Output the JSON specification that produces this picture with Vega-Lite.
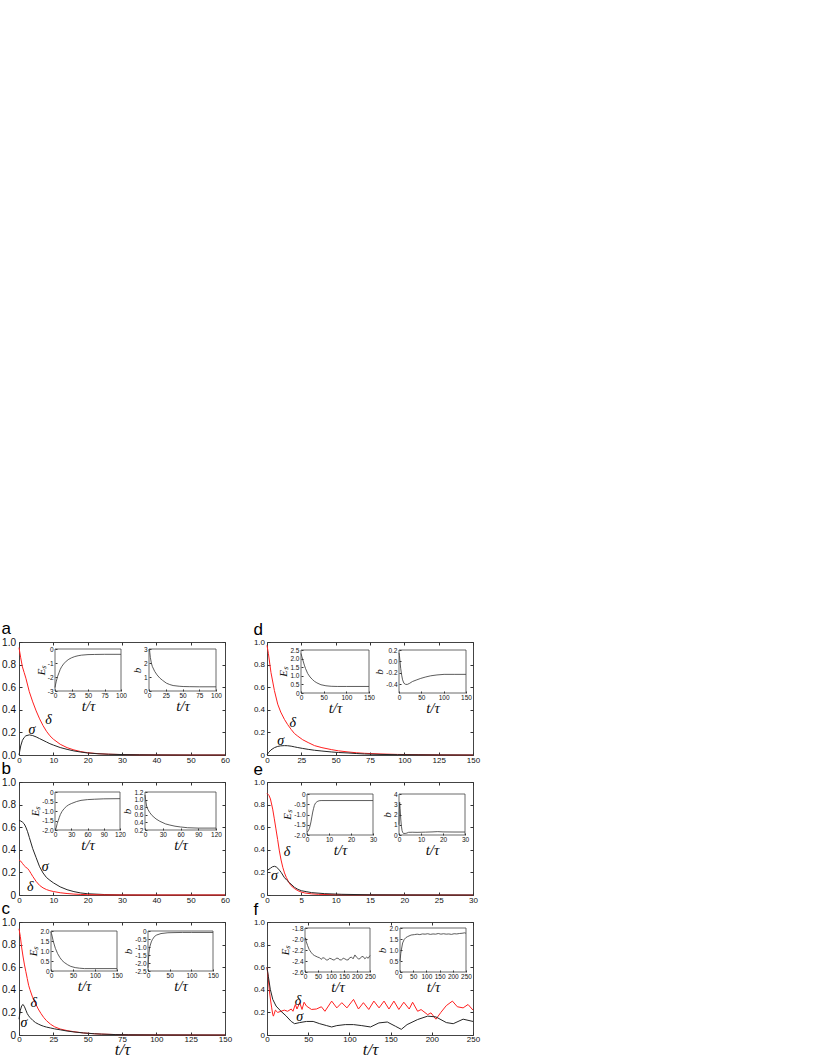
{
  "$schema": "https://vega.github.io/schema/vega-lite/v6.json",
  "background": "white",
  "padding": {"left": 1, "top": 619, "right": 5, "bottom": 1},
  "config": {
    "font": "Liberation Sans",
    "view": {"stroke": "#444", "strokeWidth": 1},
    "axis": {"grid": false, "domain": false, "labelOverlap": false, "labelFlush": false, "tickCount": 30, "tickColor": "#333", "labelColor": "#111", "labelFont": "Liberation Sans", "titleColor": "#111"},
    "title": {"font": "Liberation Sans", "fontWeight": "normal", "fontSize": 17, "anchor": "start", "frame": "bounds", "offset": -1, "color": "#000"},
    "text": {"font": "Liberation Serif", "fontStyle": "italic", "fontSize": 14, "color": "#000"}
  },
  "datasets": {
    "aM": [
      {"t":0,"v":0.95,"k":"d"},{"t":0.5,"v":0.86,"k":"d"},{"t":1,"v":0.78,"k":"d"},{"t":1.5,"v":0.73,"k":"d"},{"t":2,"v":0.68,"k":"d"},{"t":3,"v":0.56,"k":"d"},{"t":4,"v":0.47,"k":"d"},{"t":5,"v":0.39,"k":"d"},{"t":6,"v":0.32,"k":"d"},{"t":7,"v":0.26,"k":"d"},{"t":8,"v":0.21,"k":"d"},{"t":9,"v":0.17,"k":"d"},{"t":10,"v":0.14,"k":"d"},{"t":12,"v":0.095,"k":"d"},{"t":14,"v":0.065,"k":"d"},{"t":16,"v":0.045,"k":"d"},{"t":18,"v":0.03,"k":"d"},{"t":20,"v":0.02,"k":"d"},{"t":23,"v":0.012,"k":"d"},{"t":26,"v":0.007,"k":"d"},{"t":30,"v":0.004,"k":"d"},{"t":35,"v":0.002,"k":"d"},{"t":40,"v":0.001,"k":"d"},{"t":50,"v":0,"k":"d"},{"t":60,"v":0,"k":"d"},
      {"t":0,"v":0,"k":"s"},{"t":0.5,"v":0.08,"k":"s"},{"t":1,"v":0.13,"k":"s"},{"t":1.5,"v":0.155,"k":"s"},{"t":2,"v":0.17,"k":"s"},{"t":3,"v":0.178,"k":"s"},{"t":4,"v":0.172,"k":"s"},{"t":5,"v":0.16,"k":"s"},{"t":6,"v":0.145,"k":"s"},{"t":7,"v":0.13,"k":"s"},{"t":8,"v":0.115,"k":"s"},{"t":9,"v":0.1,"k":"s"},{"t":10,"v":0.088,"k":"s"},{"t":12,"v":0.066,"k":"s"},{"t":14,"v":0.05,"k":"s"},{"t":16,"v":0.036,"k":"s"},{"t":18,"v":0.026,"k":"s"},{"t":20,"v":0.018,"k":"s"},{"t":23,"v":0.011,"k":"s"},{"t":26,"v":0.007,"k":"s"},{"t":30,"v":0.004,"k":"s"},{"t":35,"v":0.002,"k":"s"},{"t":40,"v":0.001,"k":"s"},{"t":50,"v":0,"k":"s"},{"t":60,"v":0,"k":"s"}
    ],
    "aL": [{"t":8.6,"v":0.31,"k":"δ"},{"t":3.8,"v":0.22,"k":"σ"}],
    "aE": [{"t":0,"v":-2.75},{"t":1,"v":-2.5},{"t":2,"v":-2.3},{"t":4,"v":-1.95},{"t":6,"v":-1.7},{"t":8,"v":-1.45},{"t":10,"v":-1.27},{"t":13,"v":-1.07},{"t":17,"v":-0.87},{"t":21,"v":-0.73},{"t":25,"v":-0.63},{"t":30,"v":-0.54},{"t":35,"v":-0.48},{"t":40,"v":-0.44},{"t":50,"v":-0.4},{"t":60,"v":-0.39},{"t":75,"v":-0.38},{"t":100,"v":-0.38}],
    "aB": [{"t":0,"v":2.9},{"t":0.7,"v":3.0},{"t":1.2,"v":2.75},{"t":2,"v":2.4},{"t":3.5,"v":2.0},{"t":5,"v":1.75},{"t":8.5,"v":1.4},{"t":12,"v":1.15},{"t":16,"v":0.93},{"t":20,"v":0.77},{"t":26,"v":0.56},{"t":31,"v":0.46},{"t":36,"v":0.39},{"t":45,"v":0.34},{"t":51,"v":0.32},{"t":60,"v":0.31},{"t":75,"v":0.3},{"t":100,"v":0.3}],
    "bM": [
      {"t":0,"v":0.66,"k":"s"},{"t":0.5,"v":0.655,"k":"s"},{"t":1,"v":0.645,"k":"s"},{"t":1.5,"v":0.63,"k":"s"},{"t":2,"v":0.6,"k":"s"},{"t":2.5,"v":0.56,"k":"s"},{"t":3,"v":0.51,"k":"s"},{"t":3.5,"v":0.46,"k":"s"},{"t":4,"v":0.41,"k":"s"},{"t":5,"v":0.33,"k":"s"},{"t":6,"v":0.25,"k":"s"},{"t":7,"v":0.195,"k":"s"},{"t":8,"v":0.155,"k":"s"},{"t":9,"v":0.13,"k":"s"},{"t":10,"v":0.108,"k":"s"},{"t":12,"v":0.072,"k":"s"},{"t":14,"v":0.047,"k":"s"},{"t":16,"v":0.03,"k":"s"},{"t":18,"v":0.018,"k":"s"},{"t":20,"v":0.011,"k":"s"},{"t":25,"v":0.004,"k":"s"},{"t":30,"v":0.001,"k":"s"},{"t":40,"v":0,"k":"s"},{"t":60,"v":0,"k":"s"},
      {"t":0,"v":0.31,"k":"d"},{"t":0.5,"v":0.3,"k":"d"},{"t":1,"v":0.28,"k":"d"},{"t":1.5,"v":0.26,"k":"d"},{"t":2,"v":0.245,"k":"d"},{"t":2.5,"v":0.235,"k":"d"},{"t":3,"v":0.215,"k":"d"},{"t":3.5,"v":0.19,"k":"d"},{"t":4,"v":0.165,"k":"d"},{"t":5,"v":0.12,"k":"d"},{"t":6,"v":0.085,"k":"d"},{"t":7,"v":0.063,"k":"d"},{"t":8,"v":0.048,"k":"d"},{"t":9,"v":0.038,"k":"d"},{"t":10,"v":0.031,"k":"d"},{"t":12,"v":0.02,"k":"d"},{"t":14,"v":0.013,"k":"d"},{"t":16,"v":0.008,"k":"d"},{"t":18,"v":0.005,"k":"d"},{"t":20,"v":0.003,"k":"d"},{"t":25,"v":0.001,"k":"d"},{"t":30,"v":0,"k":"d"},{"t":40,"v":0,"k":"d"},{"t":60,"v":0,"k":"d"}
    ],
    "bL": [{"t":7.6,"v":0.25,"k":"σ"},{"t":3.3,"v":0.07,"k":"δ"}],
    "bE": [{"t":0,"v":-2.05},{"t":1,"v":-2.0},{"t":2,"v":-1.9},{"t":4,"v":-1.67},{"t":6,"v":-1.5},{"t":8,"v":-1.33},{"t":10,"v":-1.18},{"t":13,"v":-1.02},{"t":17,"v":-0.87},{"t":21,"v":-0.76},{"t":25,"v":-0.68},{"t":30,"v":-0.61},{"t":40,"v":-0.5},{"t":48,"v":-0.44},{"t":60,"v":-0.4},{"t":73,"v":-0.38},{"t":90,"v":-0.36},{"t":120,"v":-0.35}],
    "bB": [{"t":0,"v":1.12},{"t":1,"v":1.0},{"t":2.7,"v":0.83},{"t":5,"v":0.74},{"t":8,"v":0.66},{"t":12,"v":0.58},{"t":18.7,"v":0.49},{"t":25,"v":0.43},{"t":34.7,"v":0.36},{"t":42,"v":0.33},{"t":50.7,"v":0.3},{"t":60,"v":0.28},{"t":72,"v":0.26},{"t":90,"v":0.25},{"t":120,"v":0.25}],
    "cM": [
      {"t":0,"v":0.94,"k":"d"},{"t":1,"v":0.87,"k":"d"},{"t":2,"v":0.77,"k":"d"},{"t":3,"v":0.69,"k":"d"},{"t":4,"v":0.62,"k":"d"},{"t":5,"v":0.56,"k":"d"},{"t":6,"v":0.5,"k":"d"},{"t":7,"v":0.44,"k":"d"},{"t":8,"v":0.4,"k":"d"},{"t":10,"v":0.33,"k":"d"},{"t":12,"v":0.28,"k":"d"},{"t":14,"v":0.23,"k":"d"},{"t":16,"v":0.19,"k":"d"},{"t":18,"v":0.155,"k":"d"},{"t":20,"v":0.127,"k":"d"},{"t":23,"v":0.095,"k":"d"},{"t":26,"v":0.072,"k":"d"},{"t":30,"v":0.053,"k":"d"},{"t":35,"v":0.039,"k":"d"},{"t":40,"v":0.029,"k":"d"},{"t":47,"v":0.018,"k":"d"},{"t":55,"v":0.011,"k":"d"},{"t":60,"v":0.008,"k":"d"},{"t":70,"v":0.004,"k":"d"},{"t":80,"v":0.002,"k":"d"},{"t":100,"v":0.001,"k":"d"},{"t":150,"v":0,"k":"d"},
      {"t":0,"v":0.14,"k":"s"},{"t":1,"v":0.22,"k":"s"},{"t":2,"v":0.26,"k":"s"},{"t":3,"v":0.27,"k":"s"},{"t":4,"v":0.25,"k":"s"},{"t":5,"v":0.22,"k":"s"},{"t":6,"v":0.19,"k":"s"},{"t":7,"v":0.17,"k":"s"},{"t":8,"v":0.155,"k":"s"},{"t":10,"v":0.13,"k":"s"},{"t":12,"v":0.11,"k":"s"},{"t":14,"v":0.097,"k":"s"},{"t":16,"v":0.086,"k":"s"},{"t":18,"v":0.077,"k":"s"},{"t":20,"v":0.07,"k":"s"},{"t":23,"v":0.062,"k":"s"},{"t":26,"v":0.054,"k":"s"},{"t":30,"v":0.046,"k":"s"},{"t":35,"v":0.035,"k":"s"},{"t":40,"v":0.027,"k":"s"},{"t":47,"v":0.018,"k":"s"},{"t":55,"v":0.011,"k":"s"},{"t":60,"v":0.008,"k":"s"},{"t":70,"v":0.004,"k":"s"},{"t":80,"v":0.002,"k":"s"},{"t":100,"v":0.001,"k":"s"},{"t":150,"v":0,"k":"s"}
    ],
    "cL": [{"t":10.8,"v":0.285,"k":"δ"},{"t":3.6,"v":0.11,"k":"σ"}],
    "cE": [{"t":0,"v":1.95},{"t":1,"v":1.88},{"t":3,"v":1.7},{"t":5,"v":1.5},{"t":7.6,"v":1.3},{"t":10,"v":1.13},{"t":15,"v":0.87},{"t":20,"v":0.68},{"t":25,"v":0.53},{"t":30,"v":0.43},{"t":38,"v":0.31},{"t":45,"v":0.23},{"t":55,"v":0.17},{"t":65,"v":0.14},{"t":76,"v":0.12},{"t":100,"v":0.12},{"t":150,"v":0.12}],
    "cB": [{"t":0,"v":-2.3},{"t":0.5,"v":-2.1},{"t":1,"v":-1.8},{"t":2.3,"v":-1.36},{"t":4,"v":-1.0},{"t":7.6,"v":-0.68},{"t":10,"v":-0.54},{"t":15,"v":-0.34},{"t":20,"v":-0.25},{"t":30,"v":-0.16},{"t":46,"v":-0.11},{"t":60,"v":-0.1},{"t":80,"v":-0.09},{"t":100,"v":-0.09},{"t":150,"v":-0.09}],
    "dM": [
      {"t":0,"v":0.97,"k":"d"},{"t":1,"v":0.9,"k":"d"},{"t":2.9,"v":0.73,"k":"d"},{"t":5.4,"v":0.57,"k":"d"},{"t":7.8,"v":0.45,"k":"d"},{"t":10,"v":0.38,"k":"d"},{"t":12.7,"v":0.315,"k":"d"},{"t":15,"v":0.27,"k":"d"},{"t":17.6,"v":0.226,"k":"d"},{"t":20,"v":0.19,"k":"d"},{"t":22.4,"v":0.167,"k":"d"},{"t":26,"v":0.135,"k":"d"},{"t":30,"v":0.11,"k":"d"},{"t":34.6,"v":0.083,"k":"d"},{"t":40,"v":0.065,"k":"d"},{"t":46.8,"v":0.048,"k":"d"},{"t":52,"v":0.037,"k":"d"},{"t":59,"v":0.027,"k":"d"},{"t":65,"v":0.02,"k":"d"},{"t":71,"v":0.015,"k":"d"},{"t":83,"v":0.009,"k":"d"},{"t":95,"v":0.005,"k":"d"},{"t":110,"v":0.003,"k":"d"},{"t":125,"v":0.001,"k":"d"},{"t":150,"v":0,"k":"d"},
      {"t":0,"v":0,"k":"s"},{"t":1,"v":0.02,"k":"s"},{"t":2.9,"v":0.045,"k":"s"},{"t":5.4,"v":0.065,"k":"s"},{"t":7.8,"v":0.076,"k":"s"},{"t":10,"v":0.081,"k":"s"},{"t":12.7,"v":0.083,"k":"s"},{"t":15,"v":0.082,"k":"s"},{"t":17.6,"v":0.078,"k":"s"},{"t":20,"v":0.072,"k":"s"},{"t":22.4,"v":0.066,"k":"s"},{"t":26,"v":0.058,"k":"s"},{"t":30,"v":0.05,"k":"s"},{"t":34.6,"v":0.042,"k":"s"},{"t":40,"v":0.035,"k":"s"},{"t":46.8,"v":0.027,"k":"s"},{"t":52,"v":0.022,"k":"s"},{"t":59,"v":0.018,"k":"s"},{"t":65,"v":0.013,"k":"s"},{"t":71,"v":0.009,"k":"s"},{"t":83,"v":0.005,"k":"s"},{"t":95,"v":0.003,"k":"s"},{"t":110,"v":0.002,"k":"s"},{"t":125,"v":0.001,"k":"s"},{"t":150,"v":0,"k":"s"}
    ],
    "dL": [{"t":18.8,"v":0.285,"k":"δ"},{"t":10,"v":0.12,"k":"σ"}],
    "dE": [{"t":0,"v":2.3},{"t":2,"v":2.1},{"t":4,"v":1.92},{"t":7.4,"v":1.62},{"t":10,"v":1.42},{"t":14.8,"v":1.13},{"t":20,"v":0.93},{"t":25,"v":0.79},{"t":29.6,"v":0.68},{"t":35,"v":0.59},{"t":44,"v":0.48},{"t":55,"v":0.42},{"t":66.5,"v":0.39},{"t":80,"v":0.38},{"t":100,"v":0.38},{"t":150,"v":0.38}],
    "dB": [{"t":0,"v":0.15},{"t":1,"v":0.1},{"t":2,"v":0.02},{"t":3.75,"v":-0.12},{"t":6,"v":-0.24},{"t":8,"v":-0.32},{"t":11,"v":-0.38},{"t":15,"v":-0.4},{"t":18.75,"v":-0.4},{"t":24,"v":-0.38},{"t":30,"v":-0.35},{"t":40,"v":-0.32},{"t":48.75,"v":-0.295},{"t":60,"v":-0.27},{"t":71,"v":-0.25},{"t":85,"v":-0.235},{"t":101,"v":-0.225},{"t":125,"v":-0.225},{"t":150,"v":-0.225}],
    "eM": [
      {"t":0,"v":0.9,"k":"d"},{"t":0.3,"v":0.88,"k":"d"},{"t":0.5,"v":0.85,"k":"d"},{"t":0.83,"v":0.76,"k":"d"},{"t":1.05,"v":0.68,"k":"d"},{"t":1.3,"v":0.585,"k":"d"},{"t":1.55,"v":0.49,"k":"d"},{"t":1.8,"v":0.39,"k":"d"},{"t":2.05,"v":0.31,"k":"d"},{"t":2.3,"v":0.245,"k":"d"},{"t":2.55,"v":0.195,"k":"d"},{"t":2.8,"v":0.157,"k":"d"},{"t":3.15,"v":0.115,"k":"d"},{"t":3.5,"v":0.083,"k":"d"},{"t":4,"v":0.057,"k":"d"},{"t":4.5,"v":0.038,"k":"d"},{"t":5,"v":0.026,"k":"d"},{"t":5.5,"v":0.018,"k":"d"},{"t":6.5,"v":0.01,"k":"d"},{"t":7.5,"v":0.006,"k":"d"},{"t":10,"v":0.002,"k":"d"},{"t":15,"v":0.001,"k":"d"},{"t":30,"v":0,"k":"d"},
      {"t":0,"v":0.216,"k":"s"},{"t":0.5,"v":0.237,"k":"s"},{"t":0.8,"v":0.25,"k":"s"},{"t":1.1,"v":0.254,"k":"s"},{"t":1.35,"v":0.248,"k":"s"},{"t":1.57,"v":0.237,"k":"s"},{"t":1.8,"v":0.22,"k":"s"},{"t":2.06,"v":0.2,"k":"s"},{"t":2.5,"v":0.157,"k":"s"},{"t":2.9,"v":0.13,"k":"s"},{"t":3.3,"v":0.107,"k":"s"},{"t":4,"v":0.068,"k":"s"},{"t":4.5,"v":0.05,"k":"s"},{"t":5,"v":0.038,"k":"s"},{"t":5.7,"v":0.03,"k":"s"},{"t":6.5,"v":0.021,"k":"s"},{"t":8.4,"v":0.012,"k":"s"},{"t":10.9,"v":0.006,"k":"s"},{"t":15,"v":0.002,"k":"s"},{"t":20,"v":0.001,"k":"s"},{"t":30,"v":0,"k":"s"}
    ],
    "eL": [{"t":2.9,"v":0.38,"k":"δ"},{"t":1.1,"v":0.17,"k":"σ"}],
    "eE": [{"t":0,"v":-1.86},{"t":0.3,"v":-1.84},{"t":0.7,"v":-1.77},{"t":1.07,"v":-1.68},{"t":1.4,"v":-1.55},{"t":1.8,"v":-1.36},{"t":2.2,"v":-1.12},{"t":2.6,"v":-0.88},{"t":3,"v":-0.7},{"t":3.35,"v":-0.56},{"t":3.8,"v":-0.45},{"t":4.6,"v":-0.37},{"t":5.5,"v":-0.33},{"t":6.4,"v":-0.32},{"t":10,"v":-0.32},{"t":20,"v":-0.32},{"t":30,"v":-0.32}],
    "eB": [{"t":0,"v":1.0},{"t":0.15,"v":2.5},{"t":0.3,"v":3.2},{"t":0.5,"v":2.6},{"t":0.8,"v":1.56},{"t":1.1,"v":0.85},{"t":1.4,"v":0.42},{"t":1.7,"v":0.25},{"t":2,"v":0.16},{"t":2.8,"v":0.15},{"t":3.6,"v":0.19},{"t":4.35,"v":0.26},{"t":6,"v":0.27},{"t":8.2,"v":0.26},{"t":12,"v":0.28},{"t":15,"v":0.3},{"t":17.6,"v":0.33},{"t":20,"v":0.3},{"t":25,"v":0.29},{"t":30,"v":0.29}],
    "fM": [
      {"t":0,"v":0.6,"k":"d"},{"t":1.5,"v":0.5,"k":"d"},{"t":2.9,"v":0.39,"k":"d"},{"t":4.3,"v":0.31,"k":"d"},{"t":5.7,"v":0.24,"k":"d"},{"t":7,"v":0.18,"k":"d"},{"t":7.8,"v":0.167,"k":"d"},{"t":10.2,"v":0.22,"k":"d"},{"t":13,"v":0.2,"k":"d"},{"t":17,"v":0.21,"k":"d"},{"t":21,"v":0.22,"k":"d"},{"t":25,"v":0.21,"k":"d"},{"t":29.4,"v":0.23,"k":"d"},{"t":31.5,"v":0.21,"k":"d"},{"t":34.4,"v":0.27,"k":"d"},{"t":36.4,"v":0.23,"k":"d"},{"t":39.7,"v":0.286,"k":"d"},{"t":42.5,"v":0.226,"k":"d"},{"t":45,"v":0.29,"k":"d"},{"t":47.9,"v":0.256,"k":"d"},{"t":54,"v":0.226,"k":"d"},{"t":60,"v":0.23,"k":"d"},{"t":66,"v":0.25,"k":"d"},{"t":70.3,"v":0.21,"k":"d"},{"t":78.5,"v":0.3,"k":"d"},{"t":84.7,"v":0.24,"k":"d"},{"t":90.8,"v":0.286,"k":"d"},{"t":97,"v":0.24,"k":"d"},{"t":105,"v":0.315,"k":"d"},{"t":111,"v":0.23,"k":"d"},{"t":117,"v":0.286,"k":"d"},{"t":123.5,"v":0.226,"k":"d"},{"t":129.7,"v":0.3,"k":"d"},{"t":136,"v":0.24,"k":"d"},{"t":142,"v":0.3,"k":"d"},{"t":148,"v":0.23,"k":"d"},{"t":154,"v":0.3,"k":"d"},{"t":160,"v":0.226,"k":"d"},{"t":166,"v":0.29,"k":"d"},{"t":172.6,"v":0.23,"k":"d"},{"t":176.7,"v":0.29,"k":"d"},{"t":182.8,"v":0.21,"k":"d"},{"t":187,"v":0.225,"k":"d"},{"t":195,"v":0.18,"k":"d"},{"t":199,"v":0.196,"k":"d"},{"t":205,"v":0.14,"k":"d"},{"t":211,"v":0.2,"k":"d"},{"t":217.6,"v":0.26,"k":"d"},{"t":225,"v":0.3,"k":"d"},{"t":231,"v":0.25,"k":"d"},{"t":238,"v":0.24,"k":"d"},{"t":244,"v":0.27,"k":"d"},{"t":250,"v":0.22,"k":"d"},
      {"t":0,"v":0.6,"k":"s"},{"t":1.6,"v":0.52,"k":"s"},{"t":4,"v":0.405,"k":"s"},{"t":7,"v":0.315,"k":"s"},{"t":11,"v":0.256,"k":"s"},{"t":17,"v":0.21,"k":"s"},{"t":23,"v":0.17,"k":"s"},{"t":29.4,"v":0.12,"k":"s"},{"t":33.5,"v":0.1,"k":"s"},{"t":39.7,"v":0.11,"k":"s"},{"t":47.9,"v":0.12,"k":"s"},{"t":56,"v":0.12,"k":"s"},{"t":64,"v":0.1,"k":"s"},{"t":72.4,"v":0.083,"k":"s"},{"t":78.5,"v":0.071,"k":"s"},{"t":84.7,"v":0.083,"k":"s"},{"t":95,"v":0.092,"k":"s"},{"t":105,"v":0.092,"k":"s"},{"t":115,"v":0.083,"k":"s"},{"t":125.6,"v":0.071,"k":"s"},{"t":135.8,"v":0.107,"k":"s"},{"t":146,"v":0.115,"k":"s"},{"t":156,"v":0.077,"k":"s"},{"t":163,"v":0.05,"k":"s"},{"t":170,"v":0.092,"k":"s"},{"t":182.8,"v":0.137,"k":"s"},{"t":195,"v":0.167,"k":"s"},{"t":205,"v":0.16,"k":"s"},{"t":217.6,"v":0.11,"k":"s"},{"t":226,"v":0.1,"k":"s"},{"t":238,"v":0.14,"k":"s"},{"t":250,"v":0.12,"k":"s"}
    ],
    "fL": [{"t":37.6,"v":0.3,"k":"δ"},{"t":39.7,"v":0.158,"k":"σ"}],
    "fE": [{"t":0,"v":-2.02},{"t":2,"v":-1.98},{"t":5,"v":-2.05},{"t":10,"v":-2.12},{"t":16,"v":-2.19},{"t":23,"v":-2.24},{"t":30,"v":-2.28},{"t":36,"v":-2.3},{"t":49,"v":-2.33},{"t":56,"v":-2.34},{"t":62,"v":-2.37},{"t":69,"v":-2.34},{"t":75,"v":-2.35},{"t":82,"v":-2.38},{"t":88,"v":-2.38},{"t":95,"v":-2.35},{"t":101,"v":-2.36},{"t":108,"v":-2.38},{"t":114,"v":-2.38},{"t":120,"v":-2.35},{"t":127,"v":-2.35},{"t":134,"v":-2.38},{"t":140,"v":-2.38},{"t":147,"v":-2.35},{"t":153,"v":-2.36},{"t":160,"v":-2.38},{"t":166,"v":-2.38},{"t":172,"v":-2.34},{"t":179,"v":-2.33},{"t":185,"v":-2.36},{"t":192,"v":-2.29},{"t":198,"v":-2.33},{"t":205,"v":-2.36},{"t":211,"v":-2.36},{"t":218,"v":-2.32},{"t":224,"v":-2.32},{"t":230,"v":-2.36},{"t":237,"v":-2.33},{"t":243,"v":-2.35},{"t":250,"v":-2.3}],
    "fB": [{"t":0,"v":0.5},{"t":1,"v":0.6},{"t":3,"v":0.85},{"t":5,"v":1.0},{"t":10,"v":1.32},{"t":16,"v":1.48},{"t":22,"v":1.56},{"t":29,"v":1.61},{"t":42,"v":1.68},{"t":55,"v":1.7},{"t":65,"v":1.72},{"t":75,"v":1.7},{"t":85,"v":1.73},{"t":95,"v":1.72},{"t":105,"v":1.74},{"t":115,"v":1.71},{"t":125,"v":1.73},{"t":135,"v":1.72},{"t":145,"v":1.75},{"t":155,"v":1.72},{"t":165,"v":1.74},{"t":175,"v":1.72},{"t":185,"v":1.73},{"t":195,"v":1.71},{"t":205,"v":1.74},{"t":215,"v":1.73},{"t":225,"v":1.75},{"t":235,"v":1.76},{"t":245,"v":1.78},{"t":250,"v":1.76}]
  },
  "columns": 2,
  "bounds": "flush",
  "spacing": {"row": 27, "column": 42},
  "concat": [
    {
      "title": {"text": "a"},
      "width": 206, "height": 113,
      "layer": [
        {"layer": [
          {"data": {"name": "aM"}, "mark": {"type": "line", "strokeWidth": 1},
           "encoding": {
             "x": {"field": "t", "type": "quantitative", "scale": {"domain": [0, 60], "nice": false, "zero": false}, "axis": {"values": [0,10,20,30,40,50,60], "tickCount": 30, "labelOverlap": false, "title": null, "labelFontSize": 8, "tickSize": -3, "labelPadding": 4.5}},
             "y": {"field": "v", "type": "quantitative", "scale": {"domain": [0, 1], "nice": false}, "axis": {"values": [0,0.2,0.4,0.6,0.8,1], "tickCount": 30, "labelOverlap": false, "title": null, "labelFontSize": 10, "tickSize": -3, "labelPadding": 6.5, "labelExpr": "format(datum.value,'.1f')"}},
             "color": {"field": "k", "type": "nominal", "scale": {"domain": ["s", "d"], "range": ["#262626", "#ff1f1f"]}, "legend": null}}},
          {"data": {"name": "aL"}, "mark": {"type": "text"},
           "encoding": {"x": {"field": "t", "type": "quantitative"}, "y": {"field": "v", "type": "quantitative"}, "text": {"field": "k"}}}
        ]},
        {"data": {"name": "aM"}, "mark": {"type": "line", "opacity": 0},
         "encoding": {
           "x": {"field": "t", "type": "quantitative", "scale": {"domain": [0, 60], "nice": false, "zero": false}, "axis": {"orient": "top", "values": [0,10,20,30,40,50,60], "tickCount": 30, "labels": false, "title": null, "tickSize": -3}},
           "y": {"field": "v", "type": "quantitative", "scale": {"domain": [0, 1], "nice": false}, "axis": {"orient": "right", "values": [0,0.2,0.4,0.6,0.8,1], "tickCount": 30, "labels": false, "title": null, "tickSize": -3}}}},
        {"layer": [
          {"data": {"name": "aE"}, "mark": {"type": "line", "color": "#333", "strokeWidth": 0.8},
           "encoding": {
             "x": {"field": "t", "type": "quantitative", "scale": {"domain": [0, 100], "range": [36, 102], "nice": false, "zero": false}, "axis": {"orient": "bottom", "offset": -64, "values": [0,25,50,75,100], "tickCount": 30, "labelOverlap": false, "format": "d", "labelFontSize": 6.5, "tickSize": -2, "labelPadding": 3, "title": "t/τ", "titleFont": "Liberation Serif", "titleFontStyle": "italic", "titleFontWeight": "normal", "titleFontSize": 15, "titlePadding": 0}},
             "y": {"field": "v", "type": "quantitative", "scale": {"domain": [-3, 0], "range": [49, 7], "nice": false, "zero": false}, "axis": {"orient": "left", "offset": -36, "values": [-3,-2,-1,0], "tickCount": 30, "labelOverlap": false, "labelExpr": "(datum.value<0?'-':'')+format(abs(datum.value),'d')", "labelFontSize": 6.5, "tickSize": -2, "labelPadding": 4, "title": "Eₛ", "titleFont": "Liberation Serif", "titleFontStyle": "italic", "titleFontWeight": "normal", "titleFontSize": 11, "titlePadding": 1}}}},
          {"data": {"values": [{"x0": 0, "x1": 100, "y0": -3, "y1": 0}]}, "mark": {"type": "rect", "filled": false, "color": "#444", "strokeWidth": 0.8},
           "encoding": {"x": {"field": "x0", "type": "quantitative"}, "x2": {"field": "x1"}, "y": {"field": "y0", "type": "quantitative"}, "y2": {"field": "y1"}}}
        ]},
        {"layer": [
          {"data": {"name": "aB"}, "mark": {"type": "line", "color": "#333", "strokeWidth": 0.8},
           "encoding": {
             "x": {"field": "t", "type": "quantitative", "scale": {"domain": [0, 100], "range": [130, 197], "nice": false, "zero": false}, "axis": {"orient": "bottom", "offset": -64, "values": [0,25,50,75,100], "tickCount": 30, "labelOverlap": false, "format": "d", "labelFontSize": 6.5, "tickSize": -2, "labelPadding": 3, "title": "t/τ", "titleFont": "Liberation Serif", "titleFontStyle": "italic", "titleFontWeight": "normal", "titleFontSize": 15, "titlePadding": 0}},
             "y": {"field": "v", "type": "quantitative", "scale": {"domain": [0, 3], "range": [49, 7], "nice": false, "zero": false}, "axis": {"orient": "left", "offset": -130, "values": [0,1,2,3], "tickCount": 30, "labelOverlap": false, "format": "d", "labelFontSize": 6.5, "tickSize": -2, "labelPadding": 4, "title": "b", "titleFont": "Liberation Serif", "titleFontStyle": "italic", "titleFontWeight": "normal", "titleFontSize": 11, "titlePadding": 1}}}},
          {"data": {"values": [{"x0": 0, "x1": 100, "y0": 0, "y1": 3}]}, "mark": {"type": "rect", "filled": false, "color": "#444", "strokeWidth": 0.8},
           "encoding": {"x": {"field": "x0", "type": "quantitative"}, "x2": {"field": "x1"}, "y": {"field": "y0", "type": "quantitative"}, "y2": {"field": "y1"}}}
        ]}
      ],
      "resolve": {"scale": {"x": "independent", "y": "independent"}, "axis": {"x": "independent", "y": "independent"}}
    },
    {
      "title": {"text": "d"},
      "width": 206, "height": 113,
      "layer": [
        {"layer": [
          {"data": {"name": "dM"}, "mark": {"type": "line", "strokeWidth": 1},
           "encoding": {
             "x": {"field": "t", "type": "quantitative", "scale": {"domain": [0, 150], "nice": false, "zero": false}, "axis": {"values": [0,25,50,75,100,125,150], "tickCount": 30, "labelOverlap": false, "title": null, "labelFontSize": 8, "tickSize": -3, "labelPadding": 4.5}},
             "y": {"field": "v", "type": "quantitative", "scale": {"domain": [0, 1], "nice": false}, "axis": {"values": [0,0.2,0.4,0.6,0.8,1], "tickCount": 30, "labelOverlap": false, "title": null, "labelFontSize": 8, "tickSize": -3, "labelPadding": 5.5, "labelExpr": "datum.value==0?'0':format(datum.value,'.1f')"}},
             "color": {"field": "k", "type": "nominal", "scale": {"domain": ["s", "d"], "range": ["#262626", "#ff1f1f"]}, "legend": null}}},
          {"data": {"name": "dL"}, "mark": {"type": "text"},
           "encoding": {"x": {"field": "t", "type": "quantitative"}, "y": {"field": "v", "type": "quantitative"}, "text": {"field": "k"}}}
        ]},
        {"data": {"name": "dM"}, "mark": {"type": "line", "opacity": 0},
         "encoding": {
           "x": {"field": "t", "type": "quantitative", "scale": {"domain": [0, 150], "nice": false, "zero": false}, "axis": {"orient": "top", "values": [0,25,50,75,100,125,150], "tickCount": 30, "labels": false, "title": null, "tickSize": -3}},
           "y": {"field": "v", "type": "quantitative", "scale": {"domain": [0, 1], "nice": false}, "axis": {"orient": "right", "values": [0,0.2,0.4,0.6,0.8,1], "tickCount": 30, "labels": false, "title": null, "tickSize": -3}}}},
        {"layer": [
          {"data": {"name": "dE"}, "mark": {"type": "line", "color": "#333", "strokeWidth": 0.8},
           "encoding": {
             "x": {"field": "t", "type": "quantitative", "scale": {"domain": [0, 150], "range": [34, 102], "nice": false, "zero": false}, "axis": {"orient": "bottom", "offset": -62, "values": [0,50,100,150], "tickCount": 30, "labelOverlap": false, "format": "d", "labelFontSize": 6.5, "tickSize": -2, "labelPadding": 3, "title": "t/τ", "titleFont": "Liberation Serif", "titleFontStyle": "italic", "titleFontWeight": "normal", "titleFontSize": 15, "titlePadding": 0}},
             "y": {"field": "v", "type": "quantitative", "scale": {"domain": [0, 2.5], "range": [51, 8], "nice": false, "zero": false}, "axis": {"orient": "left", "offset": -34, "values": [0,0.5,1,1.5,2,2.5], "tickCount": 30, "labelOverlap": false, "labelExpr": "datum.value==0?'0':format(datum.value,'.1f')", "labelFontSize": 6.5, "tickSize": -2, "labelPadding": 4, "title": "Eₛ", "titleFont": "Liberation Serif", "titleFontStyle": "italic", "titleFontWeight": "normal", "titleFontSize": 11, "titlePadding": 1}}}},
          {"data": {"values": [{"x0": 0, "x1": 150, "y0": 0, "y1": 2.5}]}, "mark": {"type": "rect", "filled": false, "color": "#444", "strokeWidth": 0.8},
           "encoding": {"x": {"field": "x0", "type": "quantitative"}, "x2": {"field": "x1"}, "y": {"field": "y0", "type": "quantitative"}, "y2": {"field": "y1"}}}
        ]},
        {"layer": [
          {"data": {"name": "dB"}, "mark": {"type": "line", "color": "#333", "strokeWidth": 0.8},
           "encoding": {
             "x": {"field": "t", "type": "quantitative", "scale": {"domain": [0, 150], "range": [132, 199], "nice": false, "zero": false}, "axis": {"orient": "bottom", "offset": -62, "values": [0,50,100,150], "tickCount": 30, "labelOverlap": false, "format": "d", "labelFontSize": 6.5, "tickSize": -2, "labelPadding": 3, "title": "t/τ", "titleFont": "Liberation Serif", "titleFontStyle": "italic", "titleFontWeight": "normal", "titleFontSize": 15, "titlePadding": 0}},
             "y": {"field": "v", "type": "quantitative", "scale": {"domain": [-0.55, 0.2], "range": [51, 8], "nice": false, "zero": false}, "axis": {"orient": "left", "offset": -132, "values": [-0.4,-0.2,0,0.2], "tickCount": 30, "labelOverlap": false, "labelExpr": "(datum.value<0?'-':'')+format(abs(datum.value),'.1f')", "labelFontSize": 6.5, "tickSize": -2, "labelPadding": 4, "title": "b", "titleFont": "Liberation Serif", "titleFontStyle": "italic", "titleFontWeight": "normal", "titleFontSize": 11, "titlePadding": 1}}}},
          {"data": {"values": [{"x0": 0, "x1": 150, "y0": -0.55, "y1": 0.2}]}, "mark": {"type": "rect", "filled": false, "color": "#444", "strokeWidth": 0.8},
           "encoding": {"x": {"field": "x0", "type": "quantitative"}, "x2": {"field": "x1"}, "y": {"field": "y0", "type": "quantitative"}, "y2": {"field": "y1"}}}
        ]}
      ],
      "resolve": {"scale": {"x": "independent", "y": "independent"}, "axis": {"x": "independent", "y": "independent"}}
    },
    {
      "title": {"text": "b"},
      "width": 206, "height": 113,
      "layer": [
        {"layer": [
          {"data": {"name": "bM"}, "mark": {"type": "line", "strokeWidth": 1},
           "encoding": {
             "x": {"field": "t", "type": "quantitative", "scale": {"domain": [0, 60], "nice": false, "zero": false}, "axis": {"values": [0,10,20,30,40,50,60], "tickCount": 30, "labelOverlap": false, "title": null, "labelFontSize": 8, "tickSize": -3, "labelPadding": 4.5}},
             "y": {"field": "v", "type": "quantitative", "scale": {"domain": [0, 1], "nice": false}, "axis": {"values": [0,0.2,0.4,0.6,0.8,1], "tickCount": 30, "labelOverlap": false, "title": null, "labelFontSize": 10, "tickSize": -3, "labelPadding": 6.5, "labelExpr": "datum.value==0?'0':format(datum.value,'.1f')"}},
             "color": {"field": "k", "type": "nominal", "scale": {"domain": ["s", "d"], "range": ["#262626", "#ff1f1f"]}, "legend": null}}},
          {"data": {"name": "bL"}, "mark": {"type": "text"},
           "encoding": {"x": {"field": "t", "type": "quantitative"}, "y": {"field": "v", "type": "quantitative"}, "text": {"field": "k"}}}
        ]},
        {"data": {"name": "bM"}, "mark": {"type": "line", "opacity": 0},
         "encoding": {
           "x": {"field": "t", "type": "quantitative", "scale": {"domain": [0, 60], "nice": false, "zero": false}, "axis": {"orient": "top", "values": [0,10,20,30,40,50,60], "tickCount": 30, "labels": false, "title": null, "tickSize": -3}},
           "y": {"field": "v", "type": "quantitative", "scale": {"domain": [0, 1], "nice": false}, "axis": {"orient": "right", "values": [0,0.2,0.4,0.6,0.8,1], "tickCount": 30, "labels": false, "title": null, "tickSize": -3}}}},
        {"layer": [
          {"data": {"name": "bE"}, "mark": {"type": "line", "color": "#333", "strokeWidth": 0.8},
           "encoding": {
             "x": {"field": "t", "type": "quantitative", "scale": {"domain": [0, 120], "range": [36, 101], "nice": false, "zero": false}, "axis": {"orient": "bottom", "offset": -65, "values": [0,30,60,90,120], "tickCount": 30, "labelOverlap": false, "format": "d", "labelFontSize": 6.5, "tickSize": -2, "labelPadding": 3, "title": "t/τ", "titleFont": "Liberation Serif", "titleFontStyle": "italic", "titleFontWeight": "normal", "titleFontSize": 15, "titlePadding": 0}},
             "y": {"field": "v", "type": "quantitative", "scale": {"domain": [-2, 0], "range": [48, 10], "nice": false, "zero": false}, "axis": {"orient": "left", "offset": -36, "values": [-2,-1.5,-1,-0.5,0], "tickCount": 30, "labelOverlap": false, "labelExpr": "datum.value==0?'0':(datum.value<0?'-':'')+format(abs(datum.value),'.1f')", "labelFontSize": 6.5, "tickSize": -2, "labelPadding": 4, "title": "Eₛ", "titleFont": "Liberation Serif", "titleFontStyle": "italic", "titleFontWeight": "normal", "titleFontSize": 11, "titlePadding": 1}}}},
          {"data": {"values": [{"x0": 0, "x1": 120, "y0": -2, "y1": 0}]}, "mark": {"type": "rect", "filled": false, "color": "#444", "strokeWidth": 0.8},
           "encoding": {"x": {"field": "x0", "type": "quantitative"}, "x2": {"field": "x1"}, "y": {"field": "y0", "type": "quantitative"}, "y2": {"field": "y1"}}}
        ]},
        {"layer": [
          {"data": {"name": "bB"}, "mark": {"type": "line", "color": "#333", "strokeWidth": 0.8},
           "encoding": {
             "x": {"field": "t", "type": "quantitative", "scale": {"domain": [0, 120], "range": [126, 197], "nice": false, "zero": false}, "axis": {"orient": "bottom", "offset": -65, "values": [0,30,60,90,120], "tickCount": 30, "labelOverlap": false, "format": "d", "labelFontSize": 6.5, "tickSize": -2, "labelPadding": 3, "title": "t/τ", "titleFont": "Liberation Serif", "titleFontStyle": "italic", "titleFontWeight": "normal", "titleFontSize": 15, "titlePadding": 0}},
             "y": {"field": "v", "type": "quantitative", "scale": {"domain": [0.2, 1.2], "range": [48, 10], "nice": false, "zero": false}, "axis": {"orient": "left", "offset": -126, "values": [0.2,0.4,0.6,0.8,1,1.2], "tickCount": 30, "labelOverlap": false, "labelExpr": "format(datum.value,'.1f')", "labelFontSize": 6.5, "tickSize": -2, "labelPadding": 4, "title": "b", "titleFont": "Liberation Serif", "titleFontStyle": "italic", "titleFontWeight": "normal", "titleFontSize": 11, "titlePadding": 1}}}},
          {"data": {"values": [{"x0": 0, "x1": 120, "y0": 0.2, "y1": 1.2}]}, "mark": {"type": "rect", "filled": false, "color": "#444", "strokeWidth": 0.8},
           "encoding": {"x": {"field": "x0", "type": "quantitative"}, "x2": {"field": "x1"}, "y": {"field": "y0", "type": "quantitative"}, "y2": {"field": "y1"}}}
        ]}
      ],
      "resolve": {"scale": {"x": "independent", "y": "independent"}, "axis": {"x": "independent", "y": "independent"}}
    },
    {
      "title": {"text": "e"},
      "width": 206, "height": 113,
      "layer": [
        {"layer": [
          {"data": {"name": "eM"}, "mark": {"type": "line", "strokeWidth": 1},
           "encoding": {
             "x": {"field": "t", "type": "quantitative", "scale": {"domain": [0, 30], "nice": false, "zero": false}, "axis": {"values": [0,5,10,15,20,25,30], "tickCount": 30, "labelOverlap": false, "title": null, "labelFontSize": 8, "tickSize": -3, "labelPadding": 4.5}},
             "y": {"field": "v", "type": "quantitative", "scale": {"domain": [0, 1], "nice": false}, "axis": {"values": [0,0.2,0.4,0.6,0.8,1], "tickCount": 30, "labelOverlap": false, "title": null, "labelFontSize": 8, "tickSize": -3, "labelPadding": 5.5, "labelExpr": "datum.value==0?'0':format(datum.value,'.1f')"}},
             "color": {"field": "k", "type": "nominal", "scale": {"domain": ["s", "d"], "range": ["#262626", "#ff1f1f"]}, "legend": null}}},
          {"data": {"name": "eL"}, "mark": {"type": "text"},
           "encoding": {"x": {"field": "t", "type": "quantitative"}, "y": {"field": "v", "type": "quantitative"}, "text": {"field": "k"}}}
        ]},
        {"data": {"name": "eM"}, "mark": {"type": "line", "opacity": 0},
         "encoding": {
           "x": {"field": "t", "type": "quantitative", "scale": {"domain": [0, 30], "nice": false, "zero": false}, "axis": {"orient": "top", "values": [0,5,10,15,20,25,30], "tickCount": 30, "labels": false, "title": null, "tickSize": -3}},
           "y": {"field": "v", "type": "quantitative", "scale": {"domain": [0, 1], "nice": false}, "axis": {"orient": "right", "values": [0,0.2,0.4,0.6,0.8,1], "tickCount": 30, "labels": false, "title": null, "tickSize": -3}}}},
        {"layer": [
          {"data": {"name": "eE"}, "mark": {"type": "line", "color": "#333", "strokeWidth": 0.8},
           "encoding": {
             "x": {"field": "t", "type": "quantitative", "scale": {"domain": [0, 30], "range": [40, 106], "nice": false, "zero": false}, "axis": {"orient": "bottom", "offset": -60, "values": [0,10,20,30], "tickCount": 30, "labelOverlap": false, "format": "d", "labelFontSize": 6.5, "tickSize": -2, "labelPadding": 3, "title": "t/τ", "titleFont": "Liberation Serif", "titleFontStyle": "italic", "titleFontWeight": "normal", "titleFontSize": 15, "titlePadding": 0}},
             "y": {"field": "v", "type": "quantitative", "scale": {"domain": [-2, 0], "range": [53, 12], "nice": false, "zero": false}, "axis": {"orient": "left", "offset": -40, "values": [-2,-1.5,-1,-0.5,0], "tickCount": 30, "labelOverlap": false, "labelExpr": "datum.value==0?'0':(datum.value<0?'-':'')+format(abs(datum.value),'.1f')", "labelFontSize": 6.5, "tickSize": -2, "labelPadding": 4, "title": "Eₛ", "titleFont": "Liberation Serif", "titleFontStyle": "italic", "titleFontWeight": "normal", "titleFontSize": 11, "titlePadding": 1}}}},
          {"data": {"values": [{"x0": 0, "x1": 30, "y0": -2, "y1": 0}]}, "mark": {"type": "rect", "filled": false, "color": "#444", "strokeWidth": 0.8},
           "encoding": {"x": {"field": "x0", "type": "quantitative"}, "x2": {"field": "x1"}, "y": {"field": "y0", "type": "quantitative"}, "y2": {"field": "y1"}}}
        ]},
        {"layer": [
          {"data": {"name": "eB"}, "mark": {"type": "line", "color": "#333", "strokeWidth": 0.8},
           "encoding": {
             "x": {"field": "t", "type": "quantitative", "scale": {"domain": [0, 30], "range": [132, 198], "nice": false, "zero": false}, "axis": {"orient": "bottom", "offset": -60, "values": [0,10,20,30], "tickCount": 30, "labelOverlap": false, "format": "d", "labelFontSize": 6.5, "tickSize": -2, "labelPadding": 3, "title": "t/τ", "titleFont": "Liberation Serif", "titleFontStyle": "italic", "titleFontWeight": "normal", "titleFontSize": 15, "titlePadding": 0}},
             "y": {"field": "v", "type": "quantitative", "scale": {"domain": [0, 4], "range": [53, 12], "nice": false, "zero": false}, "axis": {"orient": "left", "offset": -132, "values": [0,1,2,3,4], "tickCount": 30, "labelOverlap": false, "format": "d", "labelFontSize": 6.5, "tickSize": -2, "labelPadding": 4, "title": "b", "titleFont": "Liberation Serif", "titleFontStyle": "italic", "titleFontWeight": "normal", "titleFontSize": 11, "titlePadding": 1}}}},
          {"data": {"values": [{"x0": 0, "x1": 30, "y0": 0, "y1": 4}]}, "mark": {"type": "rect", "filled": false, "color": "#444", "strokeWidth": 0.8},
           "encoding": {"x": {"field": "x0", "type": "quantitative"}, "x2": {"field": "x1"}, "y": {"field": "y0", "type": "quantitative"}, "y2": {"field": "y1"}}}
        ]}
      ],
      "resolve": {"scale": {"x": "independent", "y": "independent"}, "axis": {"x": "independent", "y": "independent"}}
    },
    {
      "title": {"text": "c"},
      "width": 206, "height": 113,
      "layer": [
        {"layer": [
          {"data": {"name": "cM"}, "mark": {"type": "line", "strokeWidth": 1},
           "encoding": {
             "x": {"field": "t", "type": "quantitative", "scale": {"domain": [0, 150], "nice": false, "zero": false}, "axis": {"values": [0,25,50,75,100,125,150], "tickCount": 30, "labelOverlap": false, "title": "t/τ", "titleFont": "Liberation Serif", "titleFontStyle": "italic", "titleFontWeight": "normal", "titleFontSize": 17, "titlePadding": -2, "labelFontSize": 8, "tickSize": -3, "labelPadding": 3.5}},
             "y": {"field": "v", "type": "quantitative", "scale": {"domain": [0, 1], "nice": false}, "axis": {"values": [0,0.2,0.4,0.6,0.8,1], "tickCount": 30, "labelOverlap": false, "title": null, "labelFontSize": 10, "tickSize": -3, "labelPadding": 6.5, "labelExpr": "datum.value==0?'0':format(datum.value,'.1f')"}},
             "color": {"field": "k", "type": "nominal", "scale": {"domain": ["s", "d"], "range": ["#262626", "#ff1f1f"]}, "legend": null}}},
          {"data": {"name": "cL"}, "mark": {"type": "text"},
           "encoding": {"x": {"field": "t", "type": "quantitative"}, "y": {"field": "v", "type": "quantitative"}, "text": {"field": "k"}}}
        ]},
        {"data": {"name": "cM"}, "mark": {"type": "line", "opacity": 0},
         "encoding": {
           "x": {"field": "t", "type": "quantitative", "scale": {"domain": [0, 150], "nice": false, "zero": false}, "axis": {"orient": "top", "values": [0,25,50,75,100,125,150], "tickCount": 30, "labels": false, "title": null, "tickSize": -3}},
           "y": {"field": "v", "type": "quantitative", "scale": {"domain": [0, 1], "nice": false}, "axis": {"orient": "right", "values": [0,0.2,0.4,0.6,0.8,1], "tickCount": 30, "labels": false, "title": null, "tickSize": -3}}}},
        {"layer": [
          {"data": {"name": "cE"}, "mark": {"type": "line", "color": "#333", "strokeWidth": 0.8},
           "encoding": {
             "x": {"field": "t", "type": "quantitative", "scale": {"domain": [0, 150], "range": [32, 98], "nice": false, "zero": false}, "axis": {"orient": "bottom", "offset": -64, "values": [0,50,100,150], "tickCount": 30, "labelOverlap": false, "format": "d", "labelFontSize": 6.5, "tickSize": -2, "labelPadding": 3, "title": "t/τ", "titleFont": "Liberation Serif", "titleFontStyle": "italic", "titleFontWeight": "normal", "titleFontSize": 15, "titlePadding": 0}},
             "y": {"field": "v", "type": "quantitative", "scale": {"domain": [0, 2], "range": [49, 9], "nice": false, "zero": false}, "axis": {"orient": "left", "offset": -32, "values": [0,0.5,1,1.5,2], "tickCount": 30, "labelOverlap": false, "labelExpr": "datum.value==0?'0':format(datum.value,'.1f')", "labelFontSize": 6.5, "tickSize": -2, "labelPadding": 4, "title": "Eₛ", "titleFont": "Liberation Serif", "titleFontStyle": "italic", "titleFontWeight": "normal", "titleFontSize": 11, "titlePadding": 1}}}},
          {"data": {"values": [{"x0": 0, "x1": 150, "y0": 0, "y1": 2}]}, "mark": {"type": "rect", "filled": false, "color": "#444", "strokeWidth": 0.8},
           "encoding": {"x": {"field": "x0", "type": "quantitative"}, "x2": {"field": "x1"}, "y": {"field": "y0", "type": "quantitative"}, "y2": {"field": "y1"}}}
        ]},
        {"layer": [
          {"data": {"name": "cB"}, "mark": {"type": "line", "color": "#333", "strokeWidth": 0.8},
           "encoding": {
             "x": {"field": "t", "type": "quantitative", "scale": {"domain": [0, 150], "range": [129, 194], "nice": false, "zero": false}, "axis": {"orient": "bottom", "offset": -64, "values": [0,50,100,150], "tickCount": 30, "labelOverlap": false, "format": "d", "labelFontSize": 6.5, "tickSize": -2, "labelPadding": 3, "title": "t/τ", "titleFont": "Liberation Serif", "titleFontStyle": "italic", "titleFontWeight": "normal", "titleFontSize": 15, "titlePadding": 0}},
             "y": {"field": "v", "type": "quantitative", "scale": {"domain": [-2.5, 0], "range": [49, 9], "nice": false, "zero": false}, "axis": {"orient": "left", "offset": -129, "values": [-2.5,-2,-1.5,-1,-0.5,0], "tickCount": 30, "labelOverlap": false, "labelExpr": "datum.value==0?'0':(datum.value<0?'-':'')+format(abs(datum.value),'.1f')", "labelFontSize": 6.5, "tickSize": -2, "labelPadding": 4, "title": "b", "titleFont": "Liberation Serif", "titleFontStyle": "italic", "titleFontWeight": "normal", "titleFontSize": 11, "titlePadding": 1}}}},
          {"data": {"values": [{"x0": 0, "x1": 150, "y0": -2.5, "y1": 0}]}, "mark": {"type": "rect", "filled": false, "color": "#444", "strokeWidth": 0.8},
           "encoding": {"x": {"field": "x0", "type": "quantitative"}, "x2": {"field": "x1"}, "y": {"field": "y0", "type": "quantitative"}, "y2": {"field": "y1"}}}
        ]}
      ],
      "resolve": {"scale": {"x": "independent", "y": "independent"}, "axis": {"x": "independent", "y": "independent"}}
    },
    {
      "title": {"text": "f"},
      "width": 206, "height": 113,
      "layer": [
        {"layer": [
          {"data": {"name": "fM"}, "mark": {"type": "line", "strokeWidth": 1},
           "encoding": {
             "x": {"field": "t", "type": "quantitative", "scale": {"domain": [0, 250], "nice": false, "zero": false}, "axis": {"values": [0,50,100,150,200,250], "tickCount": 30, "labelOverlap": false, "title": "t/τ", "titleFont": "Liberation Serif", "titleFontStyle": "italic", "titleFontWeight": "normal", "titleFontSize": 17, "titlePadding": -2, "labelFontSize": 8, "tickSize": -3, "labelPadding": 3.5}},
             "y": {"field": "v", "type": "quantitative", "scale": {"domain": [0, 1], "nice": false}, "axis": {"values": [0,0.2,0.4,0.6,0.8,1], "tickCount": 30, "labelOverlap": false, "title": null, "labelFontSize": 8, "tickSize": -3, "labelPadding": 5.5, "labelExpr": "datum.value==0?'0':format(datum.value,'.1f')"}},
             "color": {"field": "k", "type": "nominal", "scale": {"domain": ["s", "d"], "range": ["#262626", "#ff1f1f"]}, "legend": null}}},
          {"data": {"name": "fL"}, "mark": {"type": "text"},
           "encoding": {"x": {"field": "t", "type": "quantitative"}, "y": {"field": "v", "type": "quantitative"}, "text": {"field": "k"}}}
        ]},
        {"data": {"name": "fM"}, "mark": {"type": "line", "opacity": 0},
         "encoding": {
           "x": {"field": "t", "type": "quantitative", "scale": {"domain": [0, 250], "nice": false, "zero": false}, "axis": {"orient": "top", "values": [0,50,100,150,200,250], "tickCount": 30, "labels": false, "title": null, "tickSize": -3}},
           "y": {"field": "v", "type": "quantitative", "scale": {"domain": [0, 1], "nice": false}, "axis": {"orient": "right", "values": [0,0.2,0.4,0.6,0.8,1], "tickCount": 30, "labels": false, "title": null, "tickSize": -3}}}},
        {"layer": [
          {"data": {"name": "fE"}, "mark": {"type": "line", "color": "#333", "strokeWidth": 0.8},
           "encoding": {
             "x": {"field": "t", "type": "quantitative", "scale": {"domain": [0, 250], "range": [38, 103], "nice": false, "zero": false}, "axis": {"orient": "bottom", "offset": -63, "values": [0,50,100,150,200,250], "tickCount": 30, "labelOverlap": false, "format": "d", "labelFontSize": 6.5, "tickSize": -2, "labelPadding": 3, "title": "t/τ", "titleFont": "Liberation Serif", "titleFontStyle": "italic", "titleFontWeight": "normal", "titleFontSize": 15, "titlePadding": 0}},
             "y": {"field": "v", "type": "quantitative", "scale": {"domain": [-2.6, -1.8], "range": [50, 6], "nice": false, "zero": false}, "axis": {"orient": "left", "offset": -38, "values": [-2.6,-2.4,-2.2,-2,-1.8], "tickCount": 30, "labelOverlap": false, "labelExpr": "(datum.value<0?'-':'')+format(abs(datum.value),'.1f')", "labelFontSize": 6.5, "tickSize": -2, "labelPadding": 4, "title": "Eₛ", "titleFont": "Liberation Serif", "titleFontStyle": "italic", "titleFontWeight": "normal", "titleFontSize": 11, "titlePadding": 1}}}},
          {"data": {"values": [{"x0": 0, "x1": 250, "y0": -2.6, "y1": -1.8}]}, "mark": {"type": "rect", "filled": false, "color": "#444", "strokeWidth": 0.8},
           "encoding": {"x": {"field": "x0", "type": "quantitative"}, "x2": {"field": "x1"}, "y": {"field": "y0", "type": "quantitative"}, "y2": {"field": "y1"}}}
        ]},
        {"layer": [
          {"data": {"name": "fB"}, "mark": {"type": "line", "color": "#333", "strokeWidth": 0.8},
           "encoding": {
             "x": {"field": "t", "type": "quantitative", "scale": {"domain": [0, 250], "range": [133, 199], "nice": false, "zero": false}, "axis": {"orient": "bottom", "offset": -63, "values": [0,50,100,150,200,250], "tickCount": 30, "labelOverlap": false, "format": "d", "labelFontSize": 6.5, "tickSize": -2, "labelPadding": 3, "title": "t/τ", "titleFont": "Liberation Serif", "titleFontStyle": "italic", "titleFontWeight": "normal", "titleFontSize": 15, "titlePadding": 0}},
             "y": {"field": "v", "type": "quantitative", "scale": {"domain": [0, 2], "range": [50, 6], "nice": false, "zero": false}, "axis": {"orient": "left", "offset": -133, "values": [0,0.5,1,1.5,2], "tickCount": 30, "labelOverlap": false, "labelExpr": "datum.value==0?'0':format(datum.value,'.1f')", "labelFontSize": 6.5, "tickSize": -2, "labelPadding": 4, "title": "b", "titleFont": "Liberation Serif", "titleFontStyle": "italic", "titleFontWeight": "normal", "titleFontSize": 11, "titlePadding": 1}}}},
          {"data": {"values": [{"x0": 0, "x1": 250, "y0": 0, "y1": 2}]}, "mark": {"type": "rect", "filled": false, "color": "#444", "strokeWidth": 0.8},
           "encoding": {"x": {"field": "x0", "type": "quantitative"}, "x2": {"field": "x1"}, "y": {"field": "y0", "type": "quantitative"}, "y2": {"field": "y1"}}}
        ]}
      ],
      "resolve": {"scale": {"x": "independent", "y": "independent"}, "axis": {"x": "independent", "y": "independent"}}
    }
  ]
}
